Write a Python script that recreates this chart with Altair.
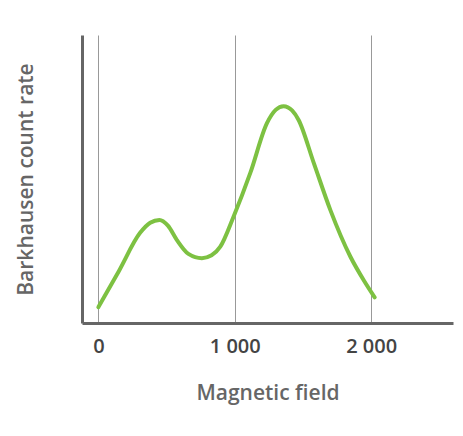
import altair as alt
import pandas as pd

field = [0, 150, 306, 380, 448, 510, 576, 660, 759, 830, 894, 991, 1114, 1236, 1300, 1358, 1420, 1468, 1579, 1701, 1848, 1950, 2026]
rate = [5.5, 18.0, 31.3, 34.8, 35.8, 33.8, 28.8, 24.0, 22.5, 23.5, 26.5, 36.9, 52.1, 69.4, 74.0, 75.3, 73.8, 70.5, 55.6, 39.2, 23.0, 14.5, 8.9]
ticks = [0, 1000, 2000]

df = pd.DataFrame({"field": field, "rate": rate})

chart = alt.Chart(df).mark_line(
    color="#7dc142", strokeWidth=4, interpolate="monotone", strokeCap="round"
).encode(
    x=alt.X("field:Q", title="Magnetic field",
            scale=alt.Scale(domain=[-120, 2600], nice=False, zero=False),
            axis=alt.Axis(values=ticks, grid=True, gridColor="#999999", gridWidth=1,
                          ticks=False, domainColor="#666666", domainWidth=3,
                          labelFontSize=20, labelColor="#444444", labelPadding=13,
                          labelFontWeight=600,
                          labelExpr="replace(format(datum.value, ','), ',', ' ')",
                          titleFontSize=21, titleColor="#666666", titlePadding=26,
                          titleFontWeight=600, labelFont="Open Sans", titleFont="Open Sans")),
    y=alt.Y("rate:Q", title="Barkhausen count rate",
            scale=alt.Scale(domain=[0, 100], nice=False),
            axis=alt.Axis(labels=False, ticks=False, grid=False,
                          domainColor="#666666", domainWidth=3,
                          titleFontSize=21, titleColor="#666666", titlePadding=46,
                          titleFontWeight=600, titleFont="Open Sans"))
).properties(
    width=371, height=288,
    autosize=alt.AutoSizeParams(type="none"),
    padding={"left": 74, "top": 27, "right": 2, "bottom": 90}
).configure_view(stroke=None)

chart.save("out.html", embed_options={"renderer": "svg", "actions": False})
